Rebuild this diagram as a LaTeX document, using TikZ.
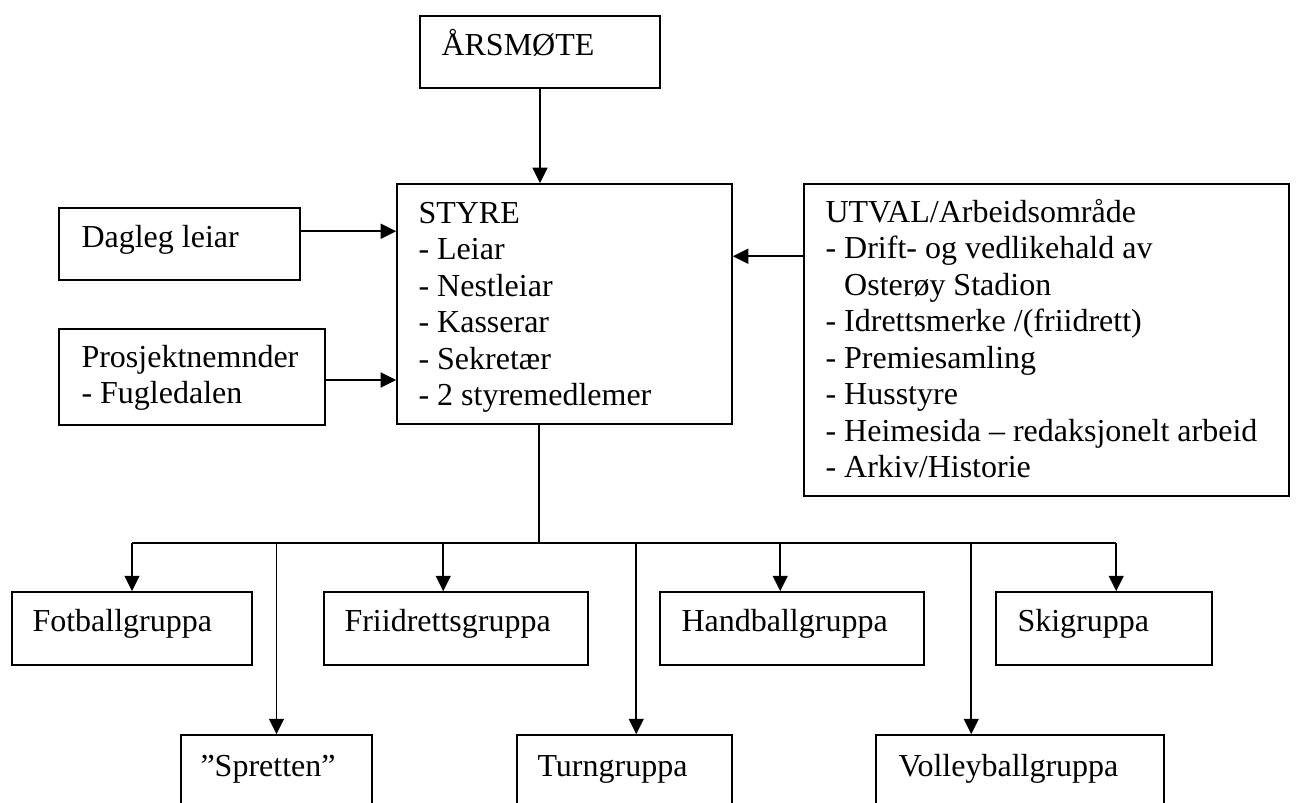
\documentclass[tikz,border=0pt]{standalone}
\usepackage{fontspec}
\setmainfont{Liberation Serif}
\usetikzlibrary{arrows.meta,fit,calc}
\begin{document}
\begin{tikzpicture}[x=0.375pt,y=-0.375pt,
  box/.style={draw, line width=0.6pt, inner sep=0pt},
  txt/.style={anchor=base west, inner sep=0pt, font=\fontsize{12}{13.7}\selectfont},
  arr/.style={line width=0.6pt, -{Triangle[length=5.8pt,width=5.6pt]}},
  ln/.style={line width=0.6pt}]
\useasboundingbox (0,0) rectangle (1298,802);
\clip (0,0) rectangle (1298,802);
% boxes
\node[box, fit={(420,16)(660,88)}] (ars) {};
\node[box, fit={(397,184)(732,424)}] (styre) {};
\node[box, fit={(59,208)(300,280)}] (dag) {};
\node[box, fit={(59,329)(325,425)}] (pro) {};
\node[box, fit={(804,184)(1289,496)}] (utv) {};
\node[box, fit={(12,592)(252,665)}] (fot) {};
\node[box, fit={(324,592)(588,665)}] (fri) {};
\node[box, fit={(660,592)(924,665)}] (hand) {};
\node[box, fit={(996,592)(1212,665)}] (ski) {};
\node[box, fit={(181,735)(372,850)}] (spr) {};
\node[box, fit={(517,735)(732,850)}] (turn) {};
\node[box, fit={(876,735)(1164,850)}] (vol) {};
% texts
\node[txt] (arsT) at (441,55) {ÅRSMØTE};
\node[txt] (styreT) at (418,223) {\begin{tabular}[t]{@{}l@{}}STYRE\\- Leiar\\- Nestleiar\\- Kasserar\\- Sekretær\\- 2 styremedlemer\end{tabular}};
\node[txt] (dagT) at (81,247) {Dagleg leiar};
\node[txt] (proT) at (81,367) {\begin{tabular}[t]{@{}l@{}}Prosjektnemnder\\- Fugledalen\end{tabular}};
\node[txt] (utvT) at (825,222) {\begin{tabular}[t]{@{}l@{}}UTVAL/Arbeidsområde\\- Drift- og vedlikehald av\\\hphantom{- }Osterøy Stadion\\- Idrettsmerke /(friidrett)\\- Premiesamling\\- Husstyre\\- Heimesida – redaksjonelt arbeid\\- Arkiv/Historie\end{tabular}};
\node[txt] (fotT) at (32,631) {Fotballgruppa};
\node[txt] (friT) at (344,631) {Friidrettsgruppa};
\node[txt] (handT) at (681,631) {Handballgruppa};
\node[txt] (skiT) at (1017,631) {Skigruppa};
\node[txt] (sprT) at (200,776) {”Spretten”};
\node[txt] (turnT) at (537,776) {Turngruppa};
\node[txt] (volT) at (898,776) {Volleyballgruppa};
% connectors
\draw[arr] (ars.south) -- (ars.south |- styre.north);
\draw[arr] ($(dag.north east)+(0,24)$) coordinate (d1) -- (d1 -| styre.west);
\draw[arr] ($(pro.east)+(0,3)$) coordinate (p1) -- (p1 -| styre.west);
\draw[arr] ($(utv.north west)+(0,73)$) coordinate (u1) -- (u1 -| styre.east);
\coordinate (s0) at ($(styre.south west)+(143,0)$);
\coordinate (bus) at (540,543);
\draw[ln] (s0) -- (s0 |- bus);
\coordinate (tfot) at (fot.north);
\coordinate (tspr) at (spr.north);
\coordinate (tfri) at ($(fri.north west)+(120,0)$);
\coordinate (tturn) at ($(turn.north west)+(120,0)$);
\coordinate (thand) at ($(hand.north west)+(121,0)$);
\coordinate (tvol) at ($(vol.north west)+(96,0)$);
\coordinate (tski) at ($(ski.north west)+(121,0)$);
\draw[ln] (tfot |- bus) -- (tski |- bus);
\foreach \t in {tfot,tspr,tfri,tturn,thand,tvol,tski}
  \draw[arr] (\t |- bus) -- (\t);
\end{tikzpicture}
\end{document}
